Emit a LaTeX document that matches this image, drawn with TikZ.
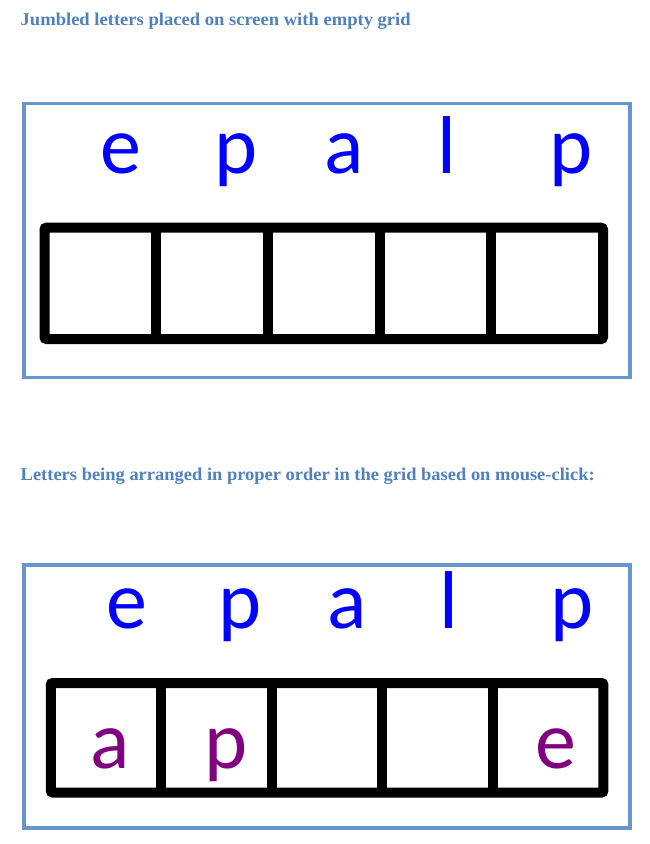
\documentclass[tikz,border=0pt]{standalone}
\usepackage{graphicx}
\usepackage{fontspec}
\setmainfont{Liberation Serif}
\newfontfamily\letterfont{Carlito}
\definecolor{titleblue}{RGB}{79,129,189}
\definecolor{framecol}{RGB}{103,150,206}
\definecolor{lettblue}{RGB}{0,0,255}
\definecolor{lettpurple}{RGB}{128,0,128}
\begin{document}
\begin{tikzpicture}[x=1pt,y=-1pt,
  title/.style={anchor=base west, inner sep=0pt, text=titleblue, font=\bfseries\fontsize{18}{18}\selectfont},
  frame/.style={draw=framecol, line width=3.5pt},
  gridbox/.style={draw=black, line width=10pt, rounded corners=2pt},
  sepline/.style={draw=black, line width=10pt},
  jl/.style={anchor=base, inner sep=0pt, text=lettblue, font=\letterfont\fontsize{82}{82}\selectfont},
  pl/.style={jl, text=lettpurple}]
\useasboundingbox (0,0) rectangle (650,844);
\fill[white] (0,0) rectangle (650,844);

% ---- first panel ----
\node[title] (t1) at (20.5,25) {\resizebox{390pt}{\height}{Jumbled letters placed on screen with empty grid}};
\draw[frame] (24,103.5) rectangle (630,377.5);
\node[jl] (e1) at (121,173) {e};
\node[jl] (p1) at (236,173) {p};
\node[jl] (a1) at (344,173) {a};
\node[jl] (l1) at (447,173) {l};
\node[jl] (q1) at (571,173) {p};
\draw[gridbox] (44.5,227.7) rectangle (603,339);
\foreach \x in {156.2,267.9,379.6,491.3}
  \draw[sepline] (\x,227.7) -- (\x,339);

% ---- second panel ----
\node[title] (t2) at (20.5,480) {\resizebox{574pt}{\height}{Letters being arranged in proper order in the grid based on mouse-click:}};
\draw[frame] (24,565) rectangle (630,828);
\node[jl] (e2) at (127,628) {e};
\node[jl] (p2) at (240,628) {p};
\node[jl] (a2) at (347,628) {a};
\node[jl] (l2) at (449,628) {l};
\node[jl] (q2) at (572,628) {p};
\draw[gridbox] (50.8,683) rectangle (603.4,792.5);
\foreach \x in {161.3,271.8,382.4,492.9}
  \draw[sepline] (\x,683) -- (\x,792.5);
\node[pl] (ga) at (110,768) {a};
\node[pl] (gp) at (226,768) {p};
\node[pl] (ge) at (556,768) {e};
\end{tikzpicture}
\end{document}
